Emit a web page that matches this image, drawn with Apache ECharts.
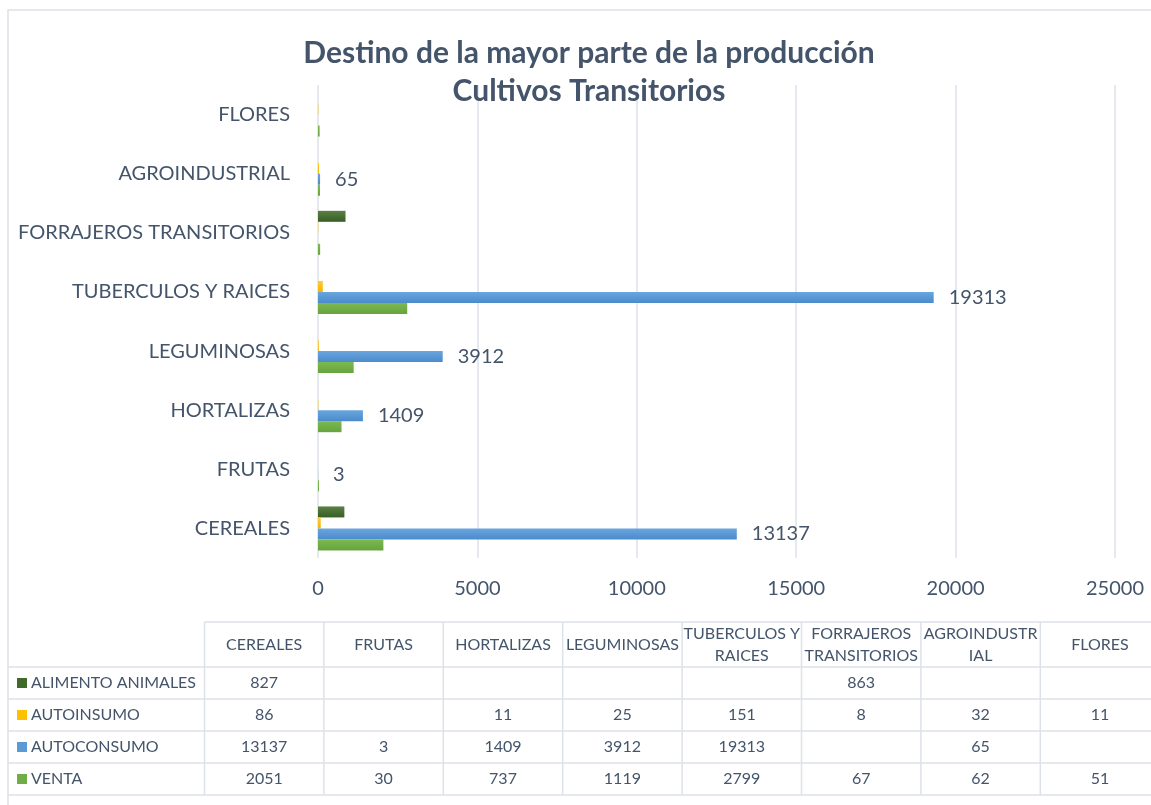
<!DOCTYPE html>
<html>
<head>
<meta charset="utf-8">
<title>Destino de la mayor parte de la producción</title>
<script src="https://cdn.jsdelivr.net/npm/echarts@6/dist/echarts.min.js"></script>
<style>
	html,body{margin:0;padding:0;background:#fff;}
	#chart{width:1151px;height:805px;}
</style>
</head>
<body>
<div id="chart"></div>
<script>
// categorias (de abajo hacia arriba en el eje)
var categories = ["CEREALES","FRUTAS","HORTALIZAS","LEGUMINOSAS","TUBERCULOS Y RAICES","FORRAJEROS TRANSITORIOS","AGROINDUSTRIAL","FLORES"];
// encabezados de la tabla de datos (con el corte de linea del original)
var tableHeaders = ["CEREALES","FRUTAS","HORTALIZAS","LEGUMINOSAS","TUBERCULOS Y\nRAICES","FORRAJEROS\nTRANSITORIOS","AGROINDUSTR\nIAL","FLORES"];
var xTicks = [0,5000,10000,15000,20000,25000];

var alimentoAnimales = [827,null,null,null,null,863,null,null];
var autoinsumo = [86,null,11,25,151,8,32,11];
var autoconsumo = [13137,3,1409,3912,19313,null,65,null];
var venta = [2051,30,737,1119,2799,67,62,51];

var textColor = "#44546a";
var lineColor = "#dde1e8";
var font = "Lato";

function grad(c1,c2){
	return new echarts.graphic.LinearGradient(0,0,0,1,[{offset:0,color:c1},{offset:1,color:c2}]);
}

// filas de la tabla, en el orden en que aparecen
var rows = [
	{name:"ALIMENTO ANIMALES",data:alimentoAnimales,color:"#3f6a2a",fill:grad("#5a7f48","#375f21")},
	{name:"AUTOINSUMO",data:autoinsumo,color:"#ffc000",fill:grad("#ffcb3a","#f5b400")},
	{name:"AUTOCONSUMO",data:autoconsumo,color:"#5b9bd5",fill:grad("#6aa6df","#4a8bcb")},
	{name:"VENTA",data:venta,color:"#70ad47",fill:grad("#7cb94f","#68a33f")}
];

var myChart = echarts.init(document.getElementById("chart"));

function buildTable(){
	var els = [];
	var x0 = 8, xc = 204.5, colW = 119.4;
	var yHead = 622, yRows = [667,699,731,763,795];
	var xEnd = 1160;
	// marco exterior
	els.push({type:"rect",shape:{x:8,y:10,width:1170,height:830},style:{fill:null,stroke:lineColor,lineWidth:1.5},silent:true});
	// lineas horizontales
	els.push({type:"line",shape:{x1:xc,y1:yHead,x2:xEnd,y2:yHead},style:{stroke:lineColor,lineWidth:1.5}});
	yRows.forEach(function(y){
		els.push({type:"line",shape:{x1:x0,y1:y,x2:xEnd,y2:y},style:{stroke:lineColor,lineWidth:1.5}});
	});
	// lineas verticales
	for(var c=0;c<=tableHeaders.length;c++){
		var x = xc + c*colW;
		els.push({type:"line",shape:{x1:x,y1:yHead,x2:x,y2:yRows[yRows.length-1]},style:{stroke:lineColor,lineWidth:1.5}});
	}
	// encabezados
	tableHeaders.forEach(function(h,c){
		els.push({type:"text",x:xc+c*colW+colW/2,y:(yHead+yRows[0])/2,style:{text:h,fill:textColor,font:"16px "+font,align:"center",verticalAlign:"middle",lineHeight:22}});
	});
	// filas
	rows.forEach(function(r,i){
		var yMid = (yRows[i]+yRows[i+1])/2;
		els.push({type:"rect",shape:{x:17,y:yMid-5,width:10,height:10},style:{fill:r.color}});
		els.push({type:"text",x:31,y:yMid,style:{text:r.name,fill:textColor,font:"16px "+font,verticalAlign:"middle"}});
		r.data.forEach(function(v,c){
			if(v===null) return;
			els.push({type:"text",x:xc+c*colW+colW/2,y:yMid,style:{text:String(v),fill:textColor,font:"16px "+font,align:"center",verticalAlign:"middle"}});
		});
	});
	return els;
}

function makeSeries(r,withLabel){
	return {
		name:r.name,
		type:"bar",
		barWidth:11,
		barGap:"0%",
		data:r.data,
		itemStyle:{color:r.fill},
		label:{
			show:withLabel,
			position:"right",
			distance:15,
			color:textColor,
			fontFamily:font,
			fontSize:20
		}
	};
}

var option = {
	backgroundColor:"#fff",
	animation:false,
	title:{
		text:"Destino de la mayor parte de la producción\nCultivos Transitorios",
		left:584,
		top:29,
		textAlign:"center",
		textStyle:{color:textColor,fontFamily:font,fontSize:30,fontWeight:"bold",lineHeight:38}
	},
	grid:{left:318,right:36,top:85,bottom:247},
	xAxis:{
		type:"value",
		min:xTicks[0],
		max:xTicks[xTicks.length-1],
		interval:5000,
		axisLine:{show:false},
		axisTick:{show:false},
		axisLabel:{color:textColor,fontFamily:font,fontSize:20,margin:21,formatter:function(v){return String(v);}},
		splitLine:{lineStyle:{color:lineColor,width:1.5}}
	},
	yAxis:{
		type:"category",
		data:categories,
		axisLine:{show:false},
		axisTick:{show:false},
		axisLabel:{color:textColor,fontFamily:font,fontSize:20,margin:28}
	},
	// en ECharts la primera serie queda arriba en cada grupo
	series:rows.map(function(r){
		return makeSeries(r,r.name==="AUTOCONSUMO");
	}),
	graphic:{elements:buildTable()}
};
myChart.setOption(option);
</script>
</body>
</html>
